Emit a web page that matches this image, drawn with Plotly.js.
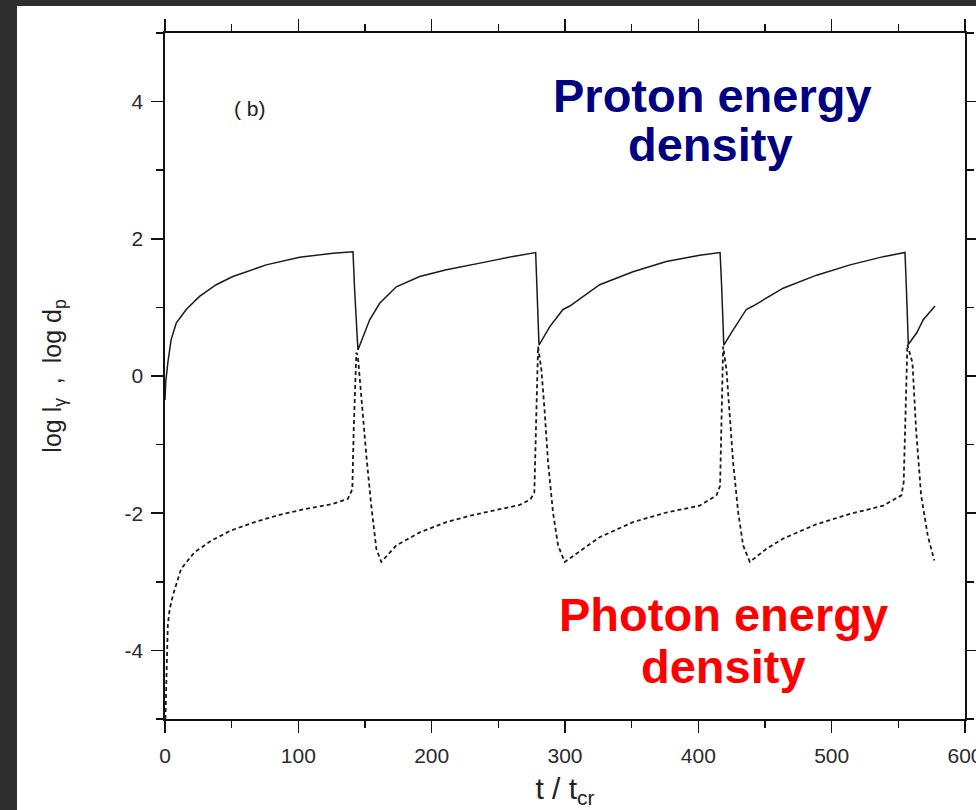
<!DOCTYPE html>
<html>
<head>
<meta charset="utf-8">
<script src="https://cdn.plot.ly/plotly-3.0.1.min.js"></script>
<style>
  html, body { margin: 0; padding: 0; width: 976px; height: 810px; overflow: hidden; background: #2e2e2e; }
  #chart { position: absolute; left: 17px; top: 6px; width: 959px; height: 804px; }
</style>
</head>
<body>
<div id="chart"></div>
<script>
// Proton energy density (solid line): t / t_cr and log value
const protonT = [0, 0.5, 2.1, 4.6, 8.4, 15.9, 25.9, 38.4, 50.9, 75.9, 101, 126, 141,
  142.2, 144.7, 148.5, 153.5, 161, 173.5, 191, 211, 240, 260, 278,
  279, 280.5, 288.6, 298.5, 303.6, 313.5, 326, 351, 376, 401, 416.3,
  417.5, 419.1, 426, 436, 441, 451, 463.6, 488.7, 513.8, 538.7, 555,
  556, 557.5, 563.8, 568.7, 577.5];
const protonY = [-0.35, -0.1, 0.19, 0.53, 0.77, 0.97, 1.16, 1.33, 1.45, 1.62, 1.73, 1.79, 1.81,
  1.26, 0.38, 0.58, 0.82, 1.06, 1.30, 1.45, 1.55, 1.66, 1.74, 1.80,
  1.3, 0.45, 0.72, 0.97, 1.02, 1.16, 1.33, 1.52, 1.67, 1.76, 1.80,
  1.3, 0.45, 0.67, 0.97, 1.02, 1.13, 1.28, 1.47, 1.62, 1.74, 1.80,
  1.3, 0.46, 0.63, 0.82, 1.02];

// Photon energy density (dashed line)
const photonT = [0.3, 1, 2.1, 3.5, 5.9, 12.1, 22.1, 34.7, 49.7, 67.2, 84.7, 104.7, 124.7, 137.2, 140.5,
  141.5, 143.5, 144.6, 147.2, 151, 154.7, 158.5, 162.2, 173.5, 191, 211, 230, 251.4, 266, 274, 277,
  279.8, 282.3, 284.8, 287.3, 291, 294.8, 299.8, 313.5, 326, 351, 376, 401, 413.6, 416.3,
  418.6, 421.1, 423.6, 426.1, 429.9, 433.6, 438.6, 451, 463.6, 488.7, 513.8, 538.7, 552.3, 554,
  556.8, 560.6, 563.3, 567.1, 572.1, 577];
const photonY = [-5.0, -4.26, -3.63, -3.4, -3.2, -2.81, -2.57, -2.40, -2.25, -2.13, -2.03, -1.94, -1.87, -1.79, -1.65,
  -0.8, 0.34, 0.3, -0.34, -1.16, -1.89, -2.52, -2.71, -2.47, -2.28, -2.13, -2.03, -1.94, -1.88, -1.8, -1.7,
  0.43, 0.09, -0.53, -1.26, -1.99, -2.47, -2.71, -2.52, -2.35, -2.13, -1.99, -1.89, -1.74, -1.6,
  0.43, 0.09, -0.53, -1.26, -1.99, -2.47, -2.71, -2.52, -2.37, -2.16, -2.01, -1.89, -1.74, -1.55,
  0.46, 0.19, -0.78, -1.74, -2.33, -2.69];

const xTickVals = [0, 100, 200, 300, 400, 500, 600];
const xTickText = ['0', '100', '200', '300', '400', '500', '600'];
const yTickVals = [-4, -2, 0, 2, 4];
const yTickText = ['-4', '-2', '0', '2', '4'];

const tickFont = { family: '"Liberation Sans", Arial, sans-serif', size: 21, color: '#2a2a2a' };

const traces = [
  { x: protonT, y: protonY, type: 'scatter', mode: 'lines', name: 'proton',
    line: { color: '#1a1a1a', width: 1.5 }, hoverinfo: 'skip' },
  { x: photonT, y: photonY, type: 'scatter', mode: 'lines', name: 'photon',
    line: { color: '#1a1a1a', width: 1.8, dash: '4px,3px' }, hoverinfo: 'skip' }
];

const axisCommon = {
  showline: true, linecolor: '#111', linewidth: 1.6, mirror: 'ticks',
  ticks: 'outside', ticklen: 12, tickwidth: 1.6, tickcolor: '#111',
  showgrid: false, zeroline: false, tickfont: tickFont, ticklabeloverflow: 'allow'
};

const layout = {
  width: 959, height: 804,
  margin: { l: 148, r: 11, t: 27, b: 91 },
  paper_bgcolor: '#ffffff', plot_bgcolor: '#ffffff',
  showlegend: false,
  xaxis: Object.assign({}, axisCommon, {
    range: [0, 600], tickvals: xTickVals, ticktext: xTickText,
    minor: { dtick: 50, ticks: 'outside', ticklen: 7, tickwidth: 1.6, tickcolor: '#111' },
    ticklabelstandoff: 5,
    title: { text: 't\u00a0/\u00a0t<sub>cr</sub>', font: { family: '"Liberation Sans", Arial, sans-serif', size: 30, color: '#222' }, standoff: 12 }
  }),
  yaxis: Object.assign({}, axisCommon, {
    range: [-5, 5], tickvals: yTickVals, ticktext: yTickText,
    minor: { dtick: 1, ticks: 'outside', ticklen: 7, tickwidth: 1.6, tickcolor: '#111' },
    ticklabelstandoff: 4,
    title: { text: '\u00a0\u00a0\u00a0\u00a0\u00a0log\u00a0l<sub>\u03b3</sub>\u00a0\u00a0,\u00a0\u00a0log\u00a0d<sub>p</sub>', font: { family: '"Liberation Sans", Arial, sans-serif', size: 25, color: '#222' }, standoff: 56 }
  }),
  annotations: [
    { x: 63.6, y: 3.9, xref: 'x', yref: 'y', text: '(\u00a0b)', showarrow: false,
      font: { family: '"Liberation Sans", Arial, sans-serif', size: 21, color: '#222' } },
    { x: 410.5, y: 4.086, xref: 'x', yref: 'y', text: '<b>Proton energy</b>', showarrow: false,
      font: { family: '"Liberation Sans", Arial, sans-serif', size: 47, color: '#000080' } },
    { x: 409.2, y: 3.38, xref: 'x', yref: 'y', text: '<b>density</b>', showarrow: false,
      font: { family: '"Liberation Sans", Arial, sans-serif', size: 47, color: '#000080' } },
    { x: 419.1, y: -3.483, xref: 'x', yref: 'y', text: '<b>Photon energy</b>', showarrow: false,
      font: { family: '"Liberation Sans", Arial, sans-serif', size: 47, color: '#ff0000' } },
    { x: 418.9, y: -4.238, xref: 'x', yref: 'y', text: '<b>density</b>', showarrow: false,
      font: { family: '"Liberation Sans", Arial, sans-serif', size: 47, color: '#ff0000' } }
  ]
};

Plotly.newPlot('chart', traces, layout, { displayModeBar: false, staticPlot: true });
</script>
</body>
</html>
